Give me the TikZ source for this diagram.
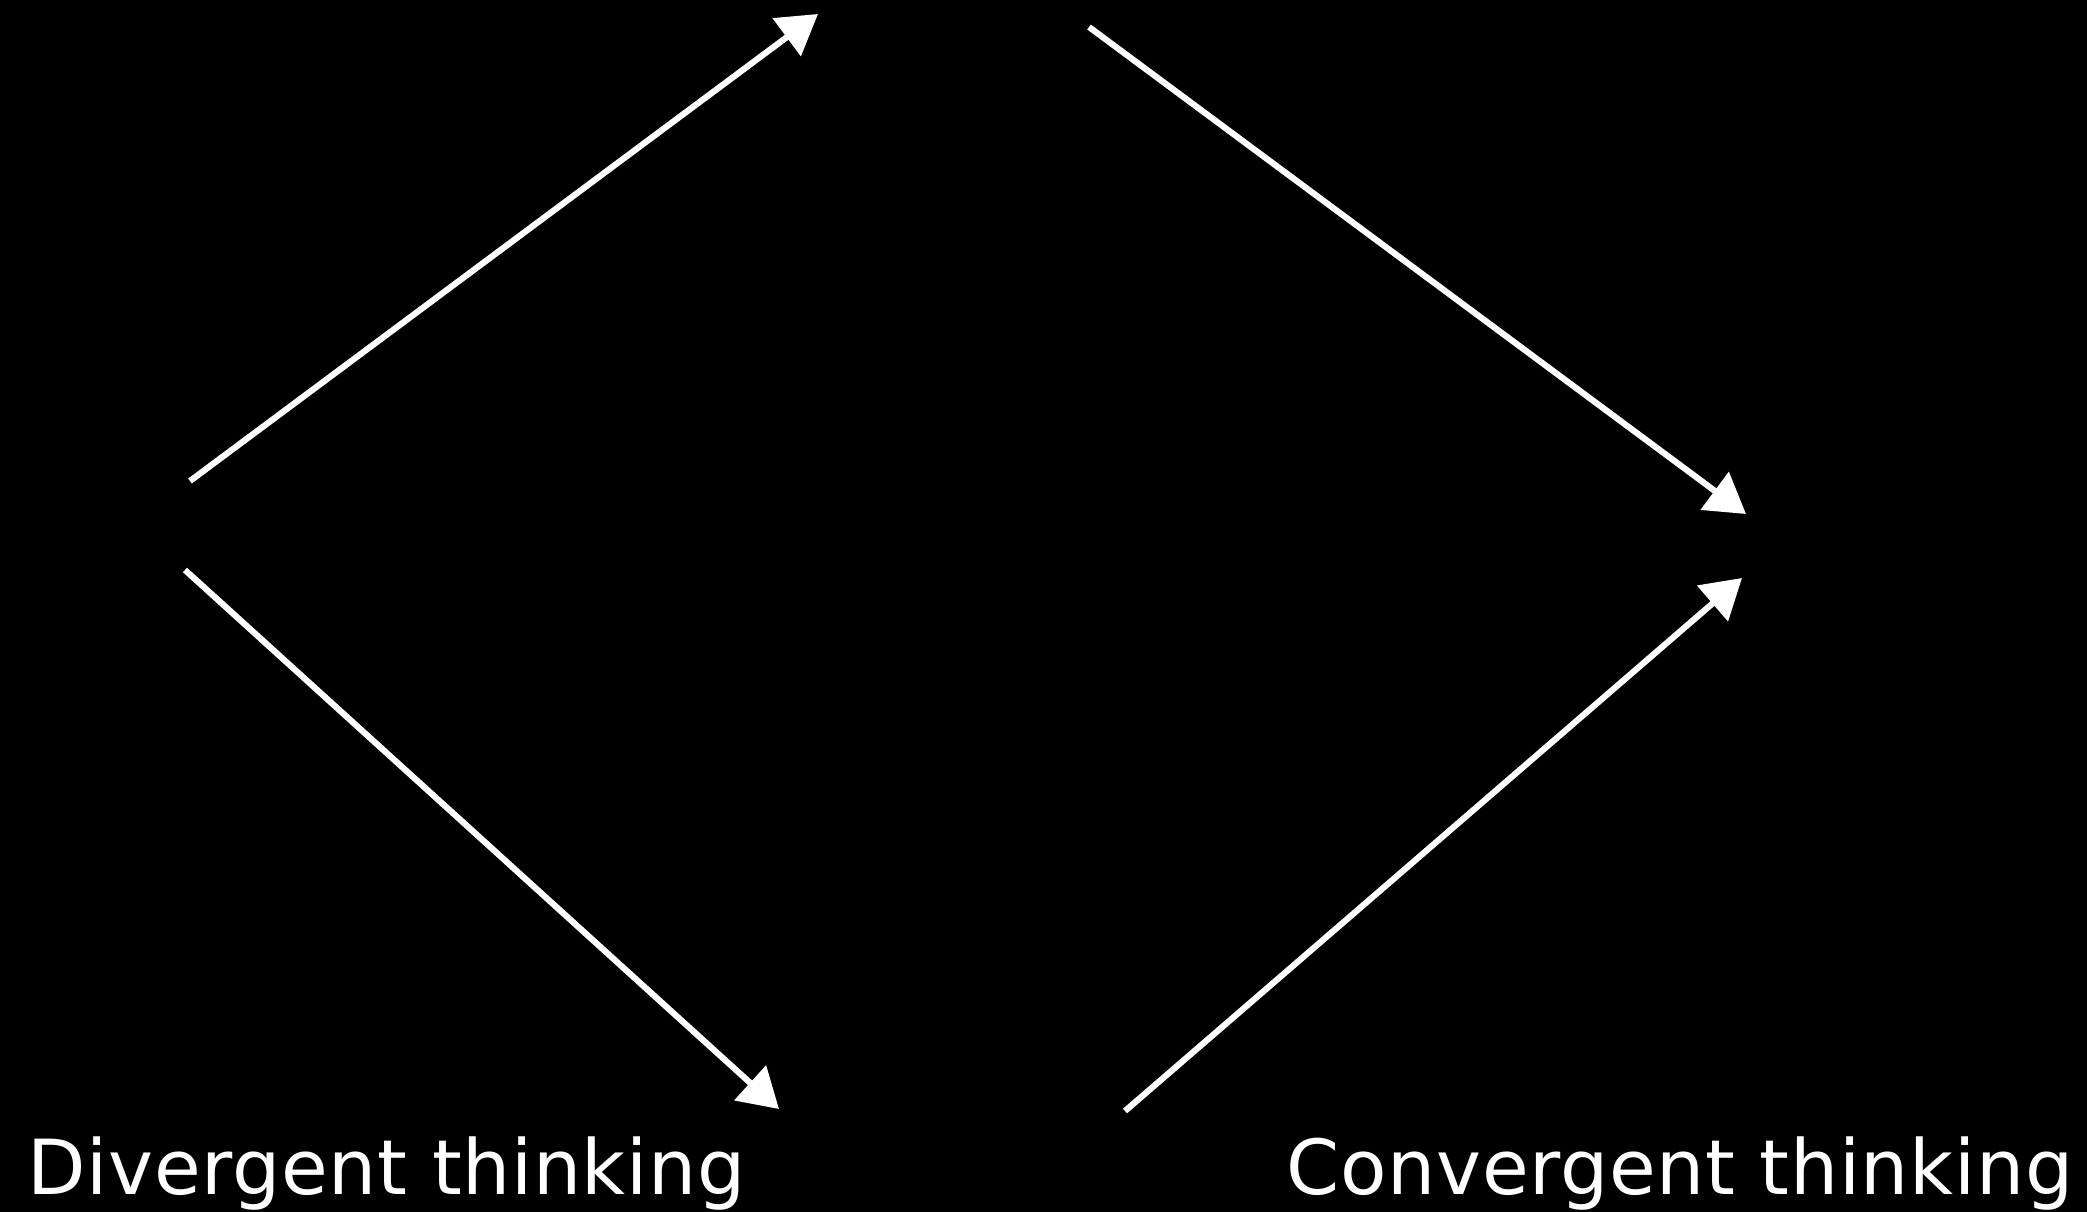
\documentclass[tikz,border=0pt]{standalone}
\usepackage{fontspec}
\setmainfont{DejaVu Sans}[LetterSpace=0.9]
\usetikzlibrary{arrows.meta}
\begin{document}
\begin{tikzpicture}[x=0.01cm,y=-0.01cm,
  flow/.style={draw=white,line width=1.75pt,-{Triangle[length=3.9mm,width=4.6mm]}},
  label/.style={text=white,inner sep=0pt,font=\fontsize{21.6pt}{26pt}\selectfont}]
\fill[black] (0,0) rectangle (2087,1212);
\useasboundingbox (0,0) rectangle (2087,1212);
\coordinate (d1s) at (190,481);
\coordinate (d1e) at (818,14);
\coordinate (d2s) at (185,570);
\coordinate (d2e) at (779,1109);
\coordinate (c1s) at (1089,27);
\coordinate (c1e) at (1746,514);
\coordinate (c2s) at (1125,1111);
\coordinate (c2e) at (1742,578);
\draw[flow] (d1s) -- (d1e);
\draw[flow] (d2s) -- (d2e);
\draw[flow] (c1s) -- (c1e);
\draw[flow] (c2s) -- (c2e);
\node[label,anchor=base west] (div) at (27,1194) {Divergent thinking};
\node[label,anchor=base east] (conv) at (2074,1194) {Convergent thinking};
\end{tikzpicture}
\end{document}
